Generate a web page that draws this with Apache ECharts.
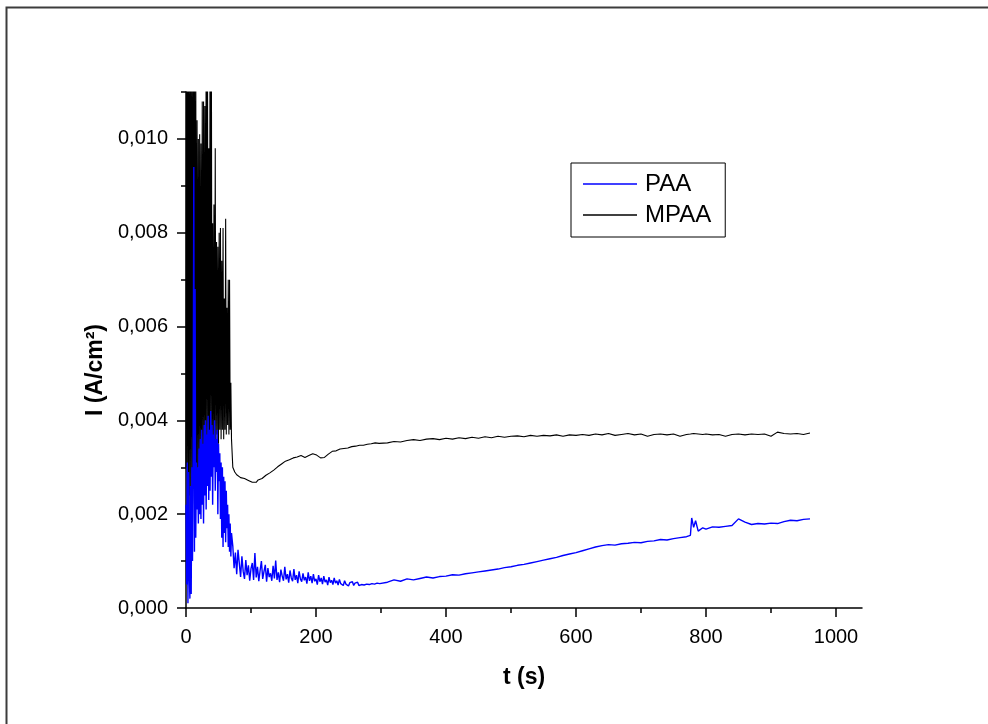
<!DOCTYPE html>
<html>
<head>
<meta charset="utf-8">
<script src="https://cdn.jsdelivr.net/npm/echarts@6/dist/echarts.min.js"></script>
<style>
  html, body { margin: 0; padding: 0; background: #fff; }
  #chart { width: 988px; height: 724px; }
</style>
</head>
<body>
<div id="chart"></div>
<script>
// Chronoamperometry: current density I (A/cm²) versus time t (s)

// PAA sampling times, s
const timePAA = [
  0,1,2,3,4,5,6,7,8,9,10,11,12,13,14,15,16,17,18,19,20,21,22,23,24,25,26,27,28,29,30,
  31,32,33,34,35,36,37,38,39,40,41,42,43,44,45,46,47,48,49,50,51,52,53,54,55,56,57,58,59,60,
  61,62,63,64,65,66,67,68,69,70,
  72,74,76,78,80,82,84,86,88,90,92,94,96,98,100,102,104,106,108,110,112,114,116,118,120,
  122,124,126,128,130,132,134,136,138,140,142,144,146,148,150,152,154,156,158,160,
  162,164,166,168,170,172,174,176,178,180,182,184,186,188,190,192,194,196,198,200,
  202,204,206,208,210,212,214,216,218,220,222,224,226,228,230,232,234,236,238,240,
  242,244,246,248,250,252,254,256,258,260,262,264,266,268,270,272,274,276,278,280,
  282,284,286,288,290,292,294,296,298,300,
  310,320,330,340,350,360,370,380,390,400,410,420,430,440,450,460,470,480,490,500,
  510,520,530,540,550,560,570,580,590,600,610,620,630,640,650,660,670,680,690,700,
  710,720,730,740,750,760,770,776,778,781,784,788,795,
  800,810,820,830,840,850,860,870,880,890,900,910,920,930,940,950,960
];

// PAA current density, A/cm²
const currentPAA = [
  0.0022,0.0005,0.0031,0.0001,0.0029,0.0008,0.0002,0.0026,0.0003,0.0030,
  0.0010,0.0034,0.0094,0.0012,0.0068,0.0015,0.0031,0.0021,0.0030,0.0018,
  0.0034,0.0020,0.0036,0.0019,0.0038,0.0022,0.0035,0.0018,0.0039,0.0024,
  0.0040,0.0021,0.0037,0.0026,0.0041,0.0023,0.0038,0.0025,0.0042,0.0028,
  0.0039,0.0022,0.0037,0.0030,0.0040,0.0025,0.0036,0.0029,0.0038,0.0020,
  0.0035,0.0027,0.0033,0.0019,0.0031,0.0015,0.0030,0.0013,0.0028,0.0016,
  0.0027,0.0014,0.0025,0.0017,0.0022,0.0013,0.0020,0.0012,0.0018,0.0011,
  0.0016,
  0.00132,0.00085,0.00118,0.00072,0.00124,0.00095,0.00066,0.00110,0.00078,0.00062,
  0.00102,0.00070,0.00091,0.00058,0.00084,0.00096,0.00060,0.00117,0.00065,0.00088,
  0.00057,0.00080,0.00100,0.00062,0.00078,0.00092,0.00056,0.00085,0.00066,0.00074,
  0.00058,0.00090,0.00063,0.00101,0.00060,0.00076,0.00055,0.00082,0.00068,0.00058,
  0.00088,0.00061,0.00072,0.00054,0.00080,0.00064,0.00057,0.00083,0.00060,0.00070,
  0.00053,0.00078,0.00062,0.00056,0.00074,0.00059,0.00066,0.00052,0.00076,0.00058,
  0.00068,0.00053,0.00072,0.00057,0.00062,0.00050,0.00070,0.00056,0.00064,0.00051,
  0.00068,0.00055,0.00060,0.00049,0.00066,0.00054,0.00059,0.00050,0.00064,0.00053,
  0.00058,0.00049,0.00061,0.00052,0.00056,0.00048,0.00058,0.00051,0.00055,0.00047,
  0.00054,0.00050,0.00056,0.00048,0.00053,0.00050,0.00055,0.00048,0.00052,0.00050,
  0.00054,0.00049,0.00053,0.00051,0.00055,0.00050,0.00054,0.00052,0.00056,0.00051,
  0.00054,0.00053,0.00056,0.00052,0.00055,
  0.00055,0.00060,0.00057,0.00062,0.00060,0.00063,0.00066,0.00064,0.00067,0.00068,
  0.00071,0.00070,0.00073,0.00075,0.00077,0.00079,0.00081,0.00083,0.00086,0.00088,
  0.00091,0.00093,0.00096,0.00099,0.00102,0.00105,0.00108,0.00112,0.00115,0.00118,
  0.00122,0.00126,0.00130,0.00133,0.00135,0.00134,0.00137,0.00138,0.00140,0.00139,
  0.00142,0.00143,0.00146,0.00145,0.00148,0.00150,0.00152,
  0.00155,0.00192,0.00172,0.00186,0.00164,0.00171,
  0.00168,0.00173,0.00172,0.00174,0.00176,0.00190,0.00183,0.00178,0.00180,0.00179,
  0.00181,0.00180,0.00184,0.00187,0.00186,0.00189,0.00190
];

// MPAA sampling times, s
const timeMPAA = [
  0,1,2,3,4,5,6,7,8,9,10,11,12,13,14,15,16,17,18,19,20,21,22,23,24,25,26,27,28,29,30,
  31,32,33,34,35,36,37,38,39,40,41,42,43,44,45,46,47,48,49,50,51,52,53,54,55,56,57,58,59,60,
  61,62,63,64,65,66,67,68,69,70,
  72,75,78,81,84,87,90,93,96,99,102,105,108,111,114,117,120,123,126,129,132,135,138,141,144,147,
  150,153,156,159,162,165,168,171,174,177,180,183,186,189,192,195,198,201,204,207,210,213,216,219,
  222,225,228,231,234,237,240,243,246,249,252,255,258,261,264,267,270,273,276,279,282,285,288,291,
  294,297,300,
  310,320,330,340,350,360,370,380,390,400,410,420,430,440,450,460,470,480,490,500,
  510,520,530,540,550,560,570,580,590,600,610,620,630,640,650,660,670,680,690,700,
  710,720,730,740,750,760,770,776,778,781,784,788,795,
  800,810,820,830,840,850,860,870,880,890,900,910,920,930,940,950,960
];

// MPAA current density, A/cm²
const currentMPAA = [
  0.0030,0.0125,0.0018,0.0125,0.0024,0.0125,0.0015,0.0125,0.0026,0.0120,
  0.0022,0.0125,0.0027,0.0125,0.0025,0.0118,0.0028,0.0104,0.0026,0.0100,
  0.0030,0.0101,0.0028,0.0099,0.0031,0.0108,0.0029,0.0108,0.0032,0.0107,
  0.0030,0.0125,0.0033,0.0125,0.0031,0.0098,0.0034,0.0125,0.0032,0.0125,
  0.0035,0.0082,0.0033,0.0086,0.0036,0.0098,0.0034,0.0078,0.0037,0.0077,
  0.0035,0.0080,0.0038,0.0081,0.0036,0.0074,0.0038,0.0081,0.0036,0.0066,
  0.0038,0.0083,0.0037,0.0064,0.0039,0.0070,0.0037,0.0070,0.0038,0.0048,
  0.0036,
  0.00300,0.00290,0.00284,0.00281,0.00278,0.00279,0.00276,0.00274,0.00272,0.00270,
  0.00268,0.00270,0.00268,0.00273,0.00277,0.00276,0.00280,0.00283,0.00286,0.00288,
  0.00290,0.00294,0.00298,0.00301,0.00305,0.00307,0.00310,0.00313,0.00312,0.00316,
  0.00318,0.00320,0.00319,0.00322,0.00324,0.00325,0.00323,0.00321,0.00323,0.00325,
  0.00327,0.00329,0.00331,0.00326,0.00322,0.00320,0.00318,0.00321,0.00325,0.00328,
  0.00331,0.00334,0.00333,0.00335,0.00337,0.00339,0.00337,0.00340,0.00342,0.00341,
  0.00343,0.00344,0.00342,0.00345,0.00346,0.00347,0.00345,0.00347,0.00348,0.00349,
  0.00347,0.00350,0.00351,0.00352,0.00354,0.00351,0.00350,
  0.00352,0.00355,0.00354,0.00357,0.00359,0.00357,0.00360,0.00361,0.00359,0.00362,
  0.00360,0.00363,0.00361,0.00364,0.00362,0.00365,0.00363,0.00366,0.00364,0.00366,
  0.00367,0.00365,0.00368,0.00366,0.00368,0.00367,0.00369,0.00366,0.00369,0.00368,
  0.00370,0.00368,0.00371,0.00369,0.00372,0.00368,0.00370,0.00372,0.00369,0.00371,
  0.00366,0.00370,0.00371,0.00369,0.00371,0.00366,0.00370,
  0.00371,0.00370,0.00372,0.00370,0.00371,0.00370,
  0.00371,0.00369,0.00370,0.00366,0.00370,0.00371,0.00369,0.00371,0.00370,0.00371,
  0.00366,0.00375,0.00372,0.00371,0.00372,0.00370,0.00373
];

// axis ticks
const xMajorTicks = [0, 200, 400, 600, 800, 1000];
const xMinorTicks = [100, 300, 500, 700, 900];
const yMajorTicks = [0, 0.002, 0.004, 0.006, 0.008, 0.010];
const yMinorTicks = [0.001, 0.003, 0.005, 0.007, 0.009, 0.011];

const seriesNames = ['PAA', 'MPAA'];

const pairs = (times, vals) => times.map((t, i) => [t, vals[i]]);

const FONT = '"Liberation Sans", Arial, sans-serif';
const X_MAX = 1040, Y_MAX = 0.011;

const chart = echarts.init(document.getElementById('chart'), null, { renderer: 'canvas' });

chart.setOption({
  animation: false,
  backgroundColor: '#ffffff',
  textStyle: { fontFamily: FONT, color: '#000' },
  graphic: [{
    type: 'polyline',
    shape: { points: [[6.5, 724], [6.5, 7.5], [988, 7.5]] },
    style: { stroke: '#3c3c3c', lineWidth: 2, fill: null }
  }],
  grid: { left: 186, top: 92, right: 126, bottom: 116, containLabel: false },
  legend: {
    data: seriesNames,
    orient: 'vertical',
    left: 571,
    top: 163,
    padding: [9, 14, 10, 12],
    itemGap: 7,
    itemWidth: 54,
    itemHeight: 1.5,
    icon: 'rect',
    borderColor: '#000',
    borderWidth: 1,
    textStyle: { fontSize: 24, fontFamily: FONT, color: '#000', lineHeight: 24, padding: [0, 0, 0, 3] }
  },
  xAxis: [{
    type: 'value', min: 0, max: X_MAX,
    name: 't (s)', nameLocation: 'middle', nameGap: 58,
    nameTextStyle: { fontSize: 23, fontWeight: 'bold', fontFamily: FONT, color: '#000' },
    splitLine: { show: false },
    axisLine: { show: true, onZero: false, lineStyle: { color: '#000', width: 1.5 } },
    axisTick: { show: true, length: 9, customValues: xMajorTicks, lineStyle: { color: '#000', width: 1.5 } },
    axisLabel: {
      customValues: xMajorTicks, margin: 19, fontSize: 20, fontFamily: FONT, color: '#000',
      formatter: (v) => String(v)
    }
  }, {
    type: 'value', min: 0, max: X_MAX, position: 'bottom',
    splitLine: { show: false },
    axisLine: { show: false },
    axisTick: { show: true, length: 5, customValues: xMinorTicks, lineStyle: { color: '#000', width: 1.5 } },
    axisLabel: { show: false }
  }],
  yAxis: [{
    type: 'value', min: 0, max: Y_MAX,
    name: 'I (A/cm²)', nameLocation: 'middle', nameGap: 76, nameRotate: 90,
    nameTextStyle: { fontSize: 23, fontWeight: 'bold', fontFamily: FONT, color: '#000', padding: [0, 40, 0, 0] },
    splitLine: { show: false },
    axisLine: { show: true, onZero: false, lineStyle: { color: '#000', width: 1.5 } },
    axisTick: { show: true, length: 9, customValues: yMajorTicks, lineStyle: { color: '#000', width: 1.5 } },
    axisLabel: {
      customValues: yMajorTicks, margin: 18, fontSize: 20, fontFamily: FONT, color: '#000',
      formatter: (v) => v.toFixed(3).replace('.', ',')
    }
  }, {
    type: 'value', min: 0, max: Y_MAX, position: 'left',
    splitLine: { show: false },
    axisLine: { show: false },
    axisTick: { show: true, length: 5, customValues: yMinorTicks, lineStyle: { color: '#000', width: 1.5 } },
    axisLabel: { show: false }
  }],
  series: [{
    name: seriesNames[0], type: 'line', data: pairs(timePAA, currentPAA),
    xAxisIndex: 0, yAxisIndex: 0, z: 3,
    showSymbol: false, symbol: 'none', clip: true,
    lineStyle: { color: '#0000ff', width: 1.4 }, itemStyle: { color: '#0000ff' }
  }, {
    name: seriesNames[1], type: 'line', data: pairs(timeMPAA, currentMPAA),
    xAxisIndex: 0, yAxisIndex: 0, z: 2,
    showSymbol: false, symbol: 'none', clip: true,
    lineStyle: { color: '#000000', width: 1.1 }, itemStyle: { color: '#000000' }
  }]
});
</script>
</body>
</html>
